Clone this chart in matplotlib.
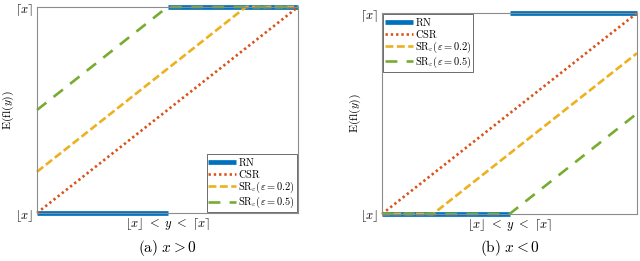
import numpy as np
import matplotlib
matplotlib.use('Agg')
import matplotlib.pyplot as plt

plt.rcParams['mathtext.fontset'] = 'cm'
plt.rcParams['font.family'] = 'serif'
plt.rcParams['font.serif'] = ['DejaVu Serif']

# panel (a): x > 0
rn_a_x = [0, 0.5, np.nan, 0.5, 1]
rn_a_y = [0, 0, np.nan, 1, 1]
csr_a_x = [0, 1]
csr_a_y = [0, 1]
sr2_a_x = [0, 0.8, 1]
sr2_a_y = [0.2, 1, 1]
sr5_a_x = [0, 0.5, 1]
sr5_a_y = [0.5, 1, 1]

# panel (b): x < 0
rn_b_x = [0, 0.5, np.nan, 0.5, 1]
rn_b_y = [0, 0, np.nan, 1, 1]
csr_b_x = [0, 1]
csr_b_y = [0, 1]
sr2_b_x = [0, 0.2, 1]
sr2_b_y = [0, 0, 0.8]
sr5_b_x = [0, 0.5, 1]
sr5_b_y = [0, 0, 0.5]

labels = [r'$\mathrm{RN}$', r'$\mathrm{CSR}$',
          r'$\mathrm{SR}_\varepsilon(\varepsilon = 0.2)$', r'$\mathrm{SR}_\varepsilon(\varepsilon = 0.5)$']
colors = ['#0072BD', '#D95319', '#EDB120', '#77AC30']
captions = [r'$(\mathrm{a})\ x > 0$', r'$(\mathrm{b})\ x < 0$']

fig = plt.figure(figsize=(6.4, 2.61), dpi=100)
ax_a = fig.add_axes([37 / 640, 1 - 213 / 261, 261 / 640, 206 / 261])
ax_b = fig.add_axes([382 / 640, 1 - 214 / 261, 255 / 640, 201 / 261])

panels = [
    (ax_a, [(rn_a_x, rn_a_y), (csr_a_x, csr_a_y), (sr2_a_x, sr2_a_y), (sr5_a_x, sr5_a_y)], 'lower right', 168, 16),
    (ax_b, [(rn_b_x, rn_b_y), (csr_b_x, csr_b_y), (sr2_b_x, sr2_b_y), (sr5_b_x, sr5_b_y)], 'upper left', 510, 363),
]

for k, (ax, series, loc, cx, ylx) in enumerate(panels):
    styles = [
        dict(lw=3.4, ls='-'),
        dict(lw=1.9, ls=(0, (0.9, 1.1))),
        dict(lw=1.9, ls=(0, (3, 1.3))),
        dict(lw=1.9, ls=(0, (4.5, 3.5))),
    ]
    for (xs, ys), st, c, lab in zip(series, styles, colors, labels):
        ax.plot(xs, ys, color=c, label=lab, clip_on=False, solid_capstyle='butt', **st)
    ax.set_xlim(0, 1)
    ax.set_ylim(0, 1)
    ax.set_xticks([])
    ax.set_yticks([0, 1])
    ax.set_yticklabels([r'$\lfloor x \rfloor$', r'$\lceil x \rceil$'], fontsize=9)
    ax.tick_params(length=0, pad=3)
    for sp in ax.spines.values():
        sp.set_color('#8c8c8c')
        sp.set_linewidth(0.8)
    ax.set_xlabel(r'$\lfloor x \rfloor\ <\ y\ <\ \lceil x \rceil$', fontsize=9, labelpad=2)
    ax.set_ylabel(r'$\mathrm{E}(\mathrm{fl}(y))$', fontsize=8.5)
    pos = ax.get_position()
    ax.yaxis.set_label_coords((ylx / 640 - pos.x0) / pos.width, 0.5)
    leg = ax.legend(loc=loc, fontsize=7.5, handlelength=2.7, handletextpad=0.2,
                    borderpad=0.15, labelspacing=0.0, borderaxespad=0.1,
                    fancybox=False, framealpha=1)
    leg.get_frame().set_edgecolor('#555555')
    leg.get_frame().set_linewidth(0.6)
    fig.text(cx / 640, 1 - 248 / 261, captions[k], ha='center', va='center', fontsize=11)

fig.savefig('out.png', dpi=100)
